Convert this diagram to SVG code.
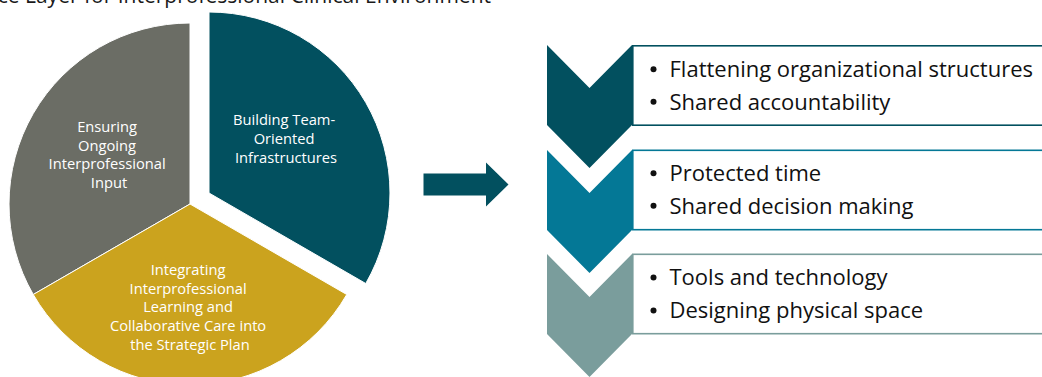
<svg xmlns="http://www.w3.org/2000/svg" width="1042" height="377" viewBox="0 0 1042 377">
  <style>
    .title { font-family: "Open Sans", "Liberation Sans", sans-serif; font-size: 21px; fill: #1a1a1a; }
    .seg { stroke: #ffffff; stroke-width: 1; }
    .segtxt { font-family: "Open Sans", "Liberation Sans", sans-serif; font-size: 14.7px; fill: #ffffff; text-anchor: middle; }
    .box { fill: #ffffff; stroke-width: 1.6; }
    .item { font-family: "Open Sans", "Liberation Sans", sans-serif; font-size: 22px; fill: #111111; }
    .dot { fill: #111111; }
  </style>

  <!-- heading, clipped at the top edge -->
  <text class="title" x="491" y="3" text-anchor="end">ce Layer for Interprofessional Clinical Environment</text>

  <!-- three-part pie -->
  <g id="seg-input">
    <path class="seg" fill="#6B6D65" d="M190,204 L33.25,294.5 A181,181 0 0 1 190,23 Z"/>
    <text class="segtxt">
      <tspan x="109" y="132">Ensuring</tspan>
      <tspan x="109" y="150.5">Ongoing</tspan>
      <tspan x="109" y="169">Interprofessional</tspan>
      <tspan x="109" y="187.5">Input</tspan>
    </text>
  </g>
  <g id="seg-strategic">
    <path class="seg" fill="#CBA31E" d="M190,204 L346.75,294.5 A181,181 0 0 1 33.25,294.5 Z"/>
    <text class="segtxt">
      <tspan x="190" y="275">Integrating</tspan>
      <tspan x="190" y="293.5">Interprofessional</tspan>
      <tspan x="190" y="312">Learning and</tspan>
      <tspan x="190" y="331">Collaborative Care into</tspan>
      <tspan x="190" y="350">the Strategic Plan</tspan>
    </text>
  </g>
  <g id="seg-infrastructure">
    <path class="seg" fill="#02505F" d="M209,193 L209,12 A181,181 0 0 1 365.75,283.5 Z"/>
    <text class="segtxt">
      <tspan x="286" y="125">Building Team-</tspan>
      <tspan x="286" y="143.5">Oriented</tspan>
      <tspan x="286" y="162.5">Infrastructures</tspan>
    </text>
  </g>

  <!-- block arrow linking pie to the list -->
  <g id="connectors">
    <path fill="#02505F" d="M423.5,173.5 H486 V162.5 L508.5,184.5 L486,206.5 V195.5 H423.5 Z"/>
  </g>

  <!-- stacked chevrons with their text panels -->
  <g id="step-1">
    <polygon fill="#02505F" points="547,45 589.5,88 632,45 632,125 589.5,168 547,125"/>
    <rect class="box" x="632.8" y="45.8" width="420" height="79.4" stroke="#02505F"/>
    <circle class="dot" cx="653.5" cy="69.3" r="3"/>
    <text class="item" x="669.5" y="77">Flattening organizational structures</text>
    <circle class="dot" cx="653.5" cy="101.8" r="3"/>
    <text class="item" x="669.5" y="109.5">Shared accountability</text>
  </g>
  <g id="step-2">
    <polygon fill="#047896" points="547,150 589.5,193 632,150 632,230 589.5,273 547,230"/>
    <rect class="box" x="632.8" y="150.3" width="420" height="79.4" stroke="#047896"/>
    <circle class="dot" cx="653.5" cy="173.3" r="3"/>
    <text class="item" x="669.5" y="181">Protected time</text>
    <circle class="dot" cx="653.5" cy="205.8" r="3"/>
    <text class="item" x="669.5" y="213.5">Shared decision making</text>
  </g>
  <g id="step-3">
    <polygon fill="#7A9D9C" points="547,254 589.5,297 632,254 632,334 589.5,377 547,334"/>
    <rect class="box" x="632.8" y="254.3" width="420" height="79.4" stroke="#7A9D9C"/>
    <circle class="dot" cx="653.5" cy="277.5" r="3"/>
    <text class="item" x="669.5" y="285">Tools and technology</text>
    <circle class="dot" cx="653.5" cy="310.5" r="3"/>
    <text class="item" x="669.5" y="318">Designing physical space</text>
  </g>
</svg>
